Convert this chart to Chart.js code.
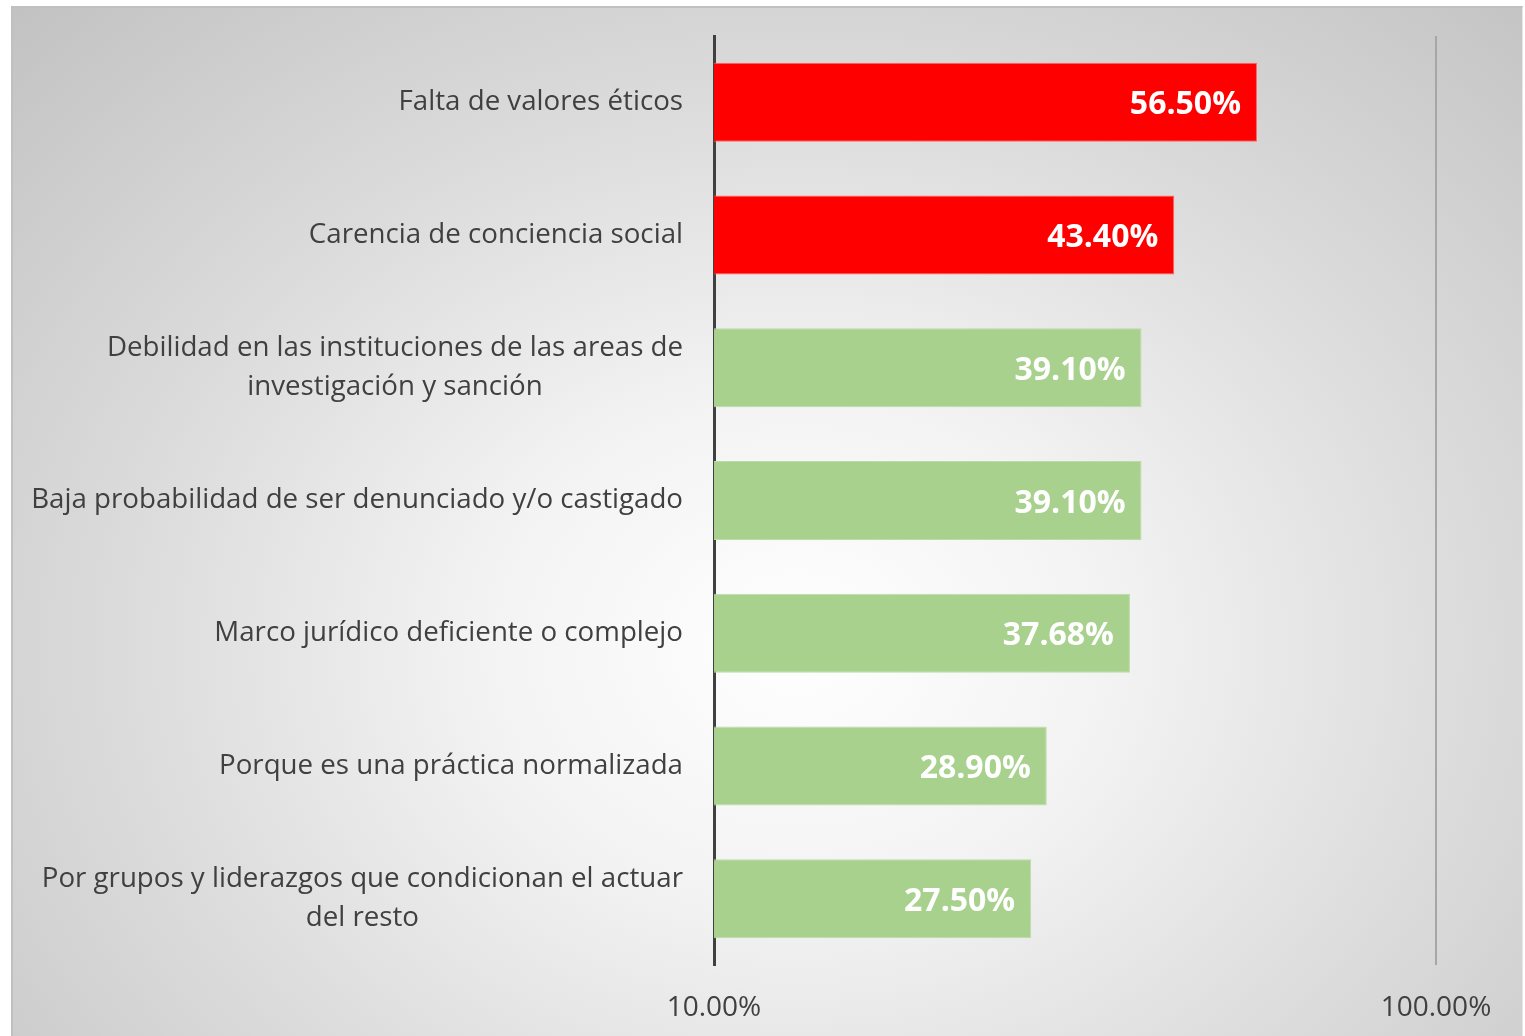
<!DOCTYPE html>
<html>
<head>
<meta charset="utf-8">
<script src="https://cdn.jsdelivr.net/npm/chart.js@4"></script>
<style>
  html, body { margin: 0; padding: 0; background: #ffffff; }
  #frame {
    position: absolute; left: 11px; top: 6px; width: 1509px; height: 1030px;
    border-top: 2px solid #c0c0c0; border-left: 2px solid #c0c0c0; border-right: 1px solid #e6e6e6;
    background: radial-gradient(ellipse farthest-corner at 52% 62%, #ffffff 0%, #f3f3f3 28%, #dcdcdc 60%, #c2c2c2 100%);
  }
  #chart { position: absolute; left: 0; top: 0; }
</style>
</head>
<body>
<div id="frame"></div>
<canvas id="chart" width="1525" height="1036"></canvas>
<script>
// chart data
const categories = [
  ["Falta de valores éticos"],
  ["Carencia de conciencia social"],
  ["Debilidad en las instituciones de las areas de", "investigación y sanción"],
  ["Baja probabilidad de ser denunciado y/o castigado"],
  ["Marco jurídico deficiente o complejo"],
  ["Porque es una práctica normalizada"],
  ["Por grupos y liderazgos que condicionan el actuar", "del resto"],
];
const values = [56.5, 43.4, 39.1, 39.1, 37.68, 28.9, 27.5];
const barColors = ["#ff0000", "#ff0000", "#a9d18e", "#a9d18e", "#a9d18e", "#a9d18e", "#a9d18e"];
const borderColors = ["#ff6666", "#ff6666", "#bcdca6", "#bcdca6", "#bcdca6", "#bcdca6", "#bcdca6"];
const tickValues = [10, 100];

const FONT = "'Open Sans', sans-serif";
const TEXT = "#404040";

const pct = (v) => Number(v).toFixed(2) + "%";

// Category labels, centered per block, right edge near the axis
const labelPlugin = {
  id: "blockLabels",
  afterDraw(chart) {
    const { ctx } = chart;
    const y = chart.scales.y;
    ctx.save();
    ctx.font = "27.7px " + FONT;
    ctx.fillStyle = TEXT;
    ctx.textAlign = "center";
    ctx.textBaseline = "middle";
    const right = y.right - 31;
    const lh = 39;
    categories.forEach((lines, i) => {
      const w = Math.max(...lines.map((l) => ctx.measureText(l).width));
      const cx = right - w / 2;
      const cy = y.getPixelForValue(i);
      lines.forEach((l, k) => {
        ctx.fillText(l, cx, cy + (k - (lines.length - 1) / 2) * lh);
      });
    });
    ctx.restore();
  },
};

// Value labels inside the bar ends
const valuePlugin = {
  id: "valueLabels",
  afterDatasetsDraw(chart) {
    const { ctx } = chart;
    const meta = chart.getDatasetMeta(0);
    ctx.save();
    ctx.font = "bold 32px " + FONT;
    ctx.fillStyle = "#ffffff";
    ctx.textAlign = "right";
    ctx.textBaseline = "middle";
    meta.data.forEach((bar, i) => {
      ctx.fillText(pct(values[i]), bar.x - 16, bar.y + 3);
    });
    ctx.restore();
  },
};

new Chart(document.getElementById("chart"), {
  type: "bar",
  data: {
    labels: categories,
    datasets: [
      {
        data: values,
        backgroundColor: barColors,
        borderColor: borderColors,
        borderWidth: 1,
        categoryPercentage: 1,
        barPercentage: 0.595,
      },
    ],
  },
  options: {
    indexAxis: "y",
    responsive: false,
    devicePixelRatio: 1,
    animation: false,
    layout: { padding: { top: 36, right: 89, bottom: 10, left: 0 } },
    plugins: {
      legend: { display: false },
      tooltip: { enabled: false },
    },
    scales: {
      x: {
        type: "logarithmic",
        min: 10,
        max: 100,
        afterBuildTicks: (scale) => {
          scale.ticks = tickValues.map((v) => ({ value: v }));
        },
        afterFit: (scale) => {
          scale.height = 61;
        },
        ticks: {
          autoSkip: false,
          maxRotation: 0,
          padding: 26,
          color: TEXT,
          font: { family: FONT, size: 28 },
          callback: (v) => pct(v),
        },
        grid: {
          drawTicks: false,
          lineWidth: 2,
          color: (c) => (c.tick && c.tick.value === 100 ? "#a6a6a6" : "rgba(0,0,0,0)"),
        },
        border: { display: false },
      },
      y: {
        afterFit: (scale) => {
          scale.width = 714;
        },
        ticks: { color: "rgba(0,0,0,0)", font: { family: FONT, size: 26 } },
        grid: { display: false, drawTicks: false },
        border: { display: true, color: "#404040", width: 3 },
      },
    },
  },
  plugins: [labelPlugin, valuePlugin],
});
</script>
</body>
</html>
